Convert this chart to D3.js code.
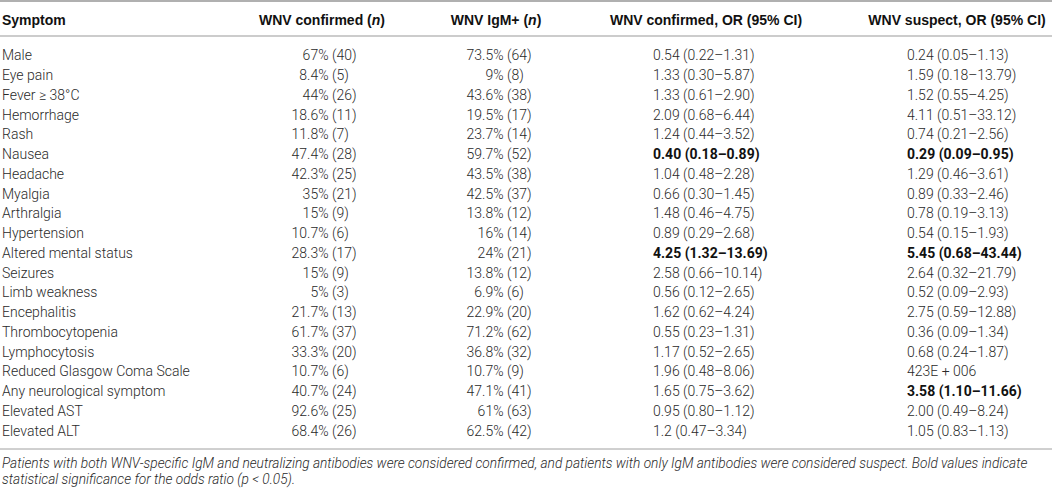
<!DOCTYPE html>
<html>
<head>
<meta charset="utf-8">
<script src="https://cdn.jsdelivr.net/npm/d3@7"></script>
<style>
  body { margin: 0; background: #fff; }
  svg { display: block; }
  .body { font-family: Roboto, "Liberation Sans", sans-serif; font-weight: 300; font-size: 14px; fill: #2a2a2a; }
  .bold { font-weight: 700; fill: #111; }
  .head { font-family: "Liberation Sans", Roboto, sans-serif; font-weight: 700; font-size: 14px; fill: #111; }
  .note { font-family: Roboto, "Liberation Sans", sans-serif; font-weight: 300; font-style: italic; font-size: 13.7px; fill: #2a2a2a; }
</style>
</head>
<body>
<svg id="chart"></svg>
<script>
"use strict";
// table values
var symptoms = ["Male", "Eye pain", "Fever \u2265 38\u00b0C", "Hemorrhage", "Rash", "Nausea", "Headache",
  "Myalgia", "Arthralgia", "Hypertension", "Altered mental status", "Seizures", "Limb weakness",
  "Encephalitis", "Thrombocytopenia", "Lymphocytosis", "Reduced Glasgow Coma Scale",
  "Any neurological symptom", "Elevated AST", "Elevated ALT"];
var confirmedPct = [67, 8.4, 44, 18.6, 11.8, 47.4, 42.3, 35, 15, 10.7, 28.3, 15, 5, 21.7, 61.7, 33.3, 10.7, 40.7, 92.6, 68.4];
var confirmedN   = [40, 5, 26, 11, 7, 28, 25, 21, 9, 6, 17, 9, 3, 13, 37, 20, 6, 24, 25, 26];
var igmPct = [73.5, 9, 43.6, 19.5, 23.7, 59.7, 43.5, 42.5, 13.8, 16, 24, 13.8, 6.9, 22.9, 71.2, 36.8, 10.7, 47.1, 61, 62.5];
var igmN   = [64, 8, 38, 17, 14, 52, 38, 37, 12, 14, 21, 12, 6, 20, 62, 32, 9, 41, 63, 42];
var orConfirmed = ["0.54 (0.22\u20131.31)", "1.33 (0.30\u20135.87)", "1.33 (0.61\u20132.90)", "2.09 (0.68\u20136.44)",
  "1.24 (0.44\u20133.52)", "0.40 (0.18\u20130.89)", "1.04 (0.48\u20132.28)", "0.66 (0.30\u20131.45)",
  "1.48 (0.46\u20134.75)", "0.89 (0.29\u20132.68)", "4.25 (1.32\u201313.69)", "2.58 (0.66\u201310.14)",
  "0.56 (0.12\u20132.65)", "1.62 (0.62\u20134.24)", "0.55 (0.23\u20131.31)", "1.17 (0.52\u20132.65)",
  "1.96 (0.48\u20138.06)", "1.65 (0.75\u20133.62)", "0.95 (0.80\u20131.12)", "1.2 (0.47\u20133.34)"];
var orSuspect = ["0.24 (0.05\u20131.13)", "1.59 (0.18\u201313.79)", "1.52 (0.55\u20134.25)", "4.11 (0.51\u201333.12)",
  "0.74 (0.21\u20132.56)", "0.29 (0.09\u20130.95)", "1.29 (0.46\u20133.61)", "0.89 (0.33\u20132.46)",
  "0.78 (0.19\u20133.13)", "0.54 (0.15\u20131.93)", "5.45 (0.68\u201343.44)", "2.64 (0.32\u201321.79)",
  "0.52 (0.09\u20132.93)", "2.75 (0.59\u201312.88)", "0.36 (0.09\u20131.34)", "0.68 (0.24\u20131.87)",
  "423E + 006", "3.58 (1.10\u201311.66)", "2.00 (0.49\u20138.24)", "1.05 (0.83\u20131.13)"];
var boldConfirmed = ["Nausea", "Altered mental status"];
var boldSuspect = ["Nausea", "Altered mental status", "Any neurological symptom"];
var headers = [
  ["Symptom"],
  ["WNV confirmed (", "n", ")"],
  ["WNV IgM+ (", "n", ")"],
  ["WNV confirmed, OR (95% CI)"],
  ["WNV suspect, OR (95% CI)"]
];
var footnote = [
  "Patients with both WNV-specific IgM and neutralizing antibodies were considered confirmed, and patients with only IgM antibodies were considered suspect. Bold values indicate",
  "statistical significance for the odds ratio (p < 0.05)."
];

var width = 1052, height = 490;
var svg = d3.select("#chart").attr("width", width).attr("height", height);

// column anchors: header centre, split point for "x% (n)" columns, left edge for OR columns
var cols = [
  {head: 2, anchor: "start"},
  {head: 322, split: 330},
  {head: 496, split: 505},
  {head: 706, left: 653},
  {head: 957, left: 907}
];

var y = d3.scaleBand().domain(symptoms).range([45.5, 440.5]);
var base = d => y(d) + y.bandwidth() / 2 + 5;

// rules
svg.append("line").attr("x1", 0).attr("x2", width).attr("y1", 1).attr("y2", 1)
  .attr("stroke", "#b0b0b0").attr("stroke-width", 2);
svg.append("line").attr("x1", 0).attr("x2", width).attr("y1", 36).attr("y2", 36)
  .attr("stroke", "#cccccc").attr("stroke-width", 2);
svg.append("line").attr("x1", 0).attr("x2", width).attr("y1", 449).attr("y2", 449)
  .attr("stroke", "#a0a0a0").attr("stroke-width", 1);

// header
var head = svg.append("g").selectAll("text")
  .data(headers)
  .enter()
  .append("text")
  .attr("class", "head")
  .attr("x", (d, i) => cols[i].head)
  .attr("y", 25)
  .attr("text-anchor", (d, i) => i == 0 ? "start" : "middle");
head.selectAll("tspan")
  .data(d => d)
  .enter()
  .append("tspan")
  .attr("font-style", (d, i) => i == 1 ? "italic" : null)
  .text(d => d);

var rows = svg.append("g").selectAll("g")
  .data(symptoms)
  .enter()
  .append("g");

rows.append("text").attr("class", "body")
  .attr("x", cols[0].head).attr("y", base)
  .text(d => d);

function pctCol(col, pct, n) {
  rows.append("text").attr("class", "body")
    .attr("x", col.split - 1.5).attr("y", base)
    .attr("text-anchor", "end")
    .text((d, i) => pct[i] + "%");
  rows.append("text").attr("class", "body")
    .attr("x", col.split + 2).attr("y", base)
    .text((d, i) => "(" + n[i] + ")");
}
pctCol(cols[1], confirmedPct, confirmedN);
pctCol(cols[2], igmPct, igmN);

rows.append("text")
  .attr("class", d => boldConfirmed.includes(d) ? "body bold" : "body")
  .attr("x", cols[3].left).attr("y", base)
  .text((d, i) => orConfirmed[i]);
rows.append("text")
  .attr("class", d => boldSuspect.includes(d) ? "body bold" : "body")
  .attr("x", cols[4].left).attr("y", base)
  .text((d, i) => orSuspect[i]);

// footnote
svg.append("g").selectAll("text")
  .data(footnote)
  .enter()
  .append("text")
  .attr("class", "note")
  .attr("x", 2)
  .attr("y", (d, i) => 467.5 + i * 16.5)
  .text(d => d);
</script>
</body>
</html>
